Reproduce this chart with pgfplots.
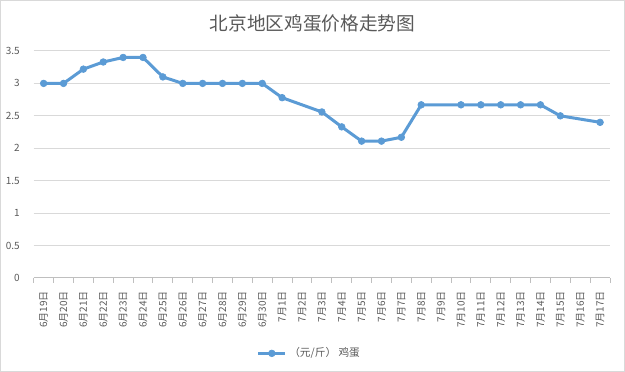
\documentclass[border=0pt]{standalone}
\usepackage{fontspec}
\setmainfont{Noto Sans CJK SC}
\usepackage{pgfplots}
\pgfplotsset{compat=1.18}
\definecolor{txt}{RGB}{89,89,89}
\definecolor{gridc}{RGB}{217,217,217}
\definecolor{axc}{RGB}{191,191,191}
\definecolor{line}{RGB}{91,155,213}
\begin{document}
\begin{tikzpicture}
\draw[gridc, line width=0.75pt] (0.4pt,0.4pt) rectangle (468.35pt,278.6pt);
\node[txt, font=\fontsize{14pt}{16pt}\selectfont] at (234.4pt,261.5pt) {北京地区鸡蛋价格走势图};
\begin{axis}[
  at={(25.3pt,70.5pt)}, anchor=south west,
  scale only axis, width=432.2pt, height=170.25pt,
  xmin=-0.5, xmax=28.5, ymin=0, ymax=3.5,
  ytick={0,0.5,...,3.5},
  yticklabels={0,0.5,1,1.5,2,2.5,3,3.5},
  xtick={0,...,28},
  xticklabels={6月19日,6月20日,6月21日,6月22日,6月23日,6月24日,6月25日,6月26日,6月27日,6月28日,6月29日,6月30日,7月1日,7月2日,7月3日,7月4日,7月5日,7月6日,7月7日,7月8日,7月9日,7月10日,7月11日,7月12日,7月13日,7月14日,7月15日,7月16日,7月17日},
  minor xtick={-0.5,0.5,...,28.5},
  axis lines*=left,
  x axis line style={axc, line width=0.75pt},
  y axis line style={draw=none},
  ytick style={draw=none},
  major x tick style={draw=none},
  minor x tick style={axc, line width=0.75pt},
  tick align=outside,
  minor tick length=3.75pt,
  ymajorgrids, grid style={gridc, line width=0.75pt},
  tick label style={txt, font=\fontsize{7.5pt}{9pt}\selectfont},
  /pgf/number format/assume math mode=true,
  xticklabel style={rotate=90, anchor=east, inner sep=0pt, xshift=-5.5pt},
  yticklabel style={inner sep=0pt, xshift=-6pt, anchor=east},
  legend style={at={(0.479,-0.332)}, anchor=center, draw=none, fill=none,
    font=\fontsize{8pt}{9pt}\selectfont, text=txt, legend cell align=left},
  legend image code/.code={\draw[#1] (0pt,0pt) -- (20pt,0pt) plot coordinates {(10pt,0pt)};},
]
\addplot[line, line width=2.25pt, mark=*, mark size=2.5pt, mark options={solid, draw=line, fill=line, line width=0.5pt}] coordinates {
(0,3.0) (1,3.0) (2,3.22) (3,3.33) (4,3.40) (5,3.40) (6,3.10) (7,3.0) (8,3.0) (9,3.0) (10,3.0) (11,3.0)
(12,2.78) (14,2.56) (15,2.33) (16,2.11) (17,2.11) (18,2.17) (19,2.67)
(21,2.67) (22,2.67) (23,2.67) (24,2.67) (25,2.67) (26,2.50) (28,2.40)
};
\addlegendentry{（元/斤） 鸡蛋}
\end{axis}
\end{tikzpicture}
\end{document}
